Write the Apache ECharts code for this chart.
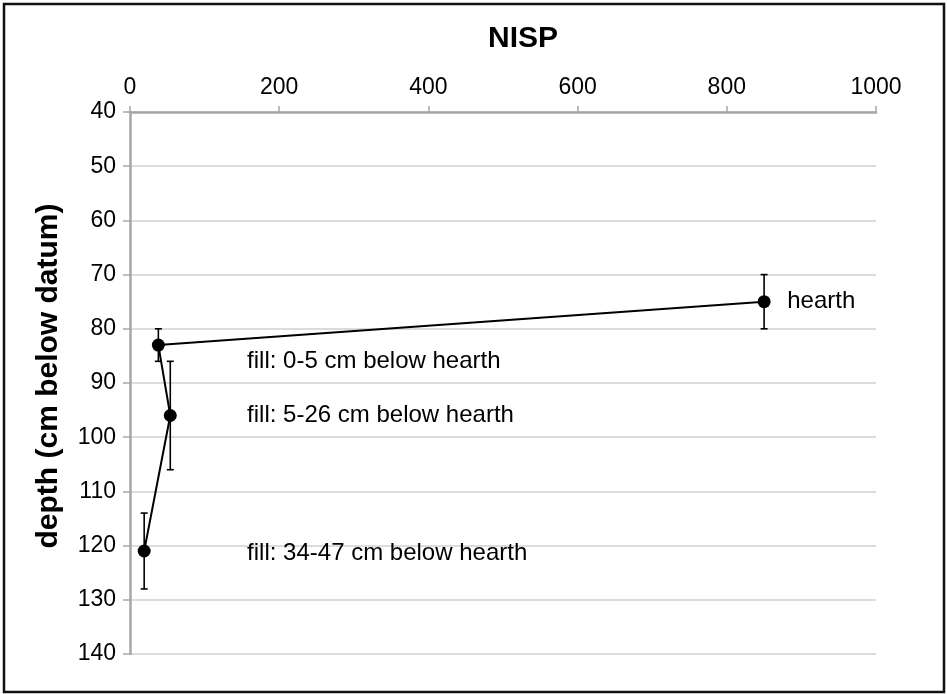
<!DOCTYPE html>
<html>
<head>
<meta charset="utf-8">
<script src="https://cdn.jsdelivr.net/npm/echarts@6/dist/echarts.min.js"></script>
<style>
html,body{margin:0;padding:0;background:#fff;}
#c{width:947px;height:694px;}
</style>
</head>
<body>
<div id="c"></div>
<script>
// Data
var nisp = [850, 38, 54, 19];
var depth = [75, 83, 96, 121];
var errLow = [70, 80, 86, 114];
var errHigh = [80, 86, 106, 128];
var xTicks = [0, 200, 400, 600, 800, 1000];
var yTicks = [40, 50, 60, 70, 80, 90, 100, 110, 120, 130, 140];
var annText = ['hearth', 'fill: 0-5 cm below hearth', 'fill: 5-26 cm below hearth', 'fill: 34-47 cm below hearth'];
var annX = [881, 157, 157, 157];
var annY = [75, 86, 96, 121.4];

var FONT = '"Liberation Sans", Arial, sans-serif';
var chart = echarts.init(document.getElementById('c'), null, {renderer: 'canvas'});

var lineData = nisp.map(function (v, i) { return [v, depth[i]]; });
var errData = nisp.map(function (v, i) { return [v, errLow[i], errHigh[i]]; });
var annData = annText.map(function (t, i) { return {value: [annX[i], annY[i]], name: t}; });

chart.setOption({
  animation: false,
  backgroundColor: '#fff',
  grid: {left: 130, right: 71, top: 112, bottom: 40, containLabel: false},
  xAxis: {
    type: 'value', position: 'top',
    min: xTicks[0], max: xTicks[xTicks.length - 1], interval: xTicks[1] - xTicks[0],
    axisLine: {show: true, onZero: false, lineStyle: {color: '#a6a6a6', width: 2.5}},
    axisTick: {show: true, inside: false, length: 6, lineStyle: {color: '#a6a6a6', width: 1.5}},
    axisLabel: {margin: 13, color: '#000', fontSize: 23, fontFamily: FONT, formatter: function (v) { return String(v); }},
    splitLine: {show: false}
  },
  yAxis: {
    type: 'value', inverse: true,
    min: yTicks[0], max: yTicks[yTicks.length - 1], interval: yTicks[1] - yTicks[0],
    axisLine: {show: true, onZero: false, lineStyle: {color: '#a6a6a6', width: 2.5}},
    axisTick: {show: true, inside: false, length: 7, lineStyle: {color: '#a6a6a6', width: 1.5}},
    axisLabel: {margin: 14, color: '#000', fontSize: 23, fontFamily: FONT, formatter: function (v) { return String(v); }},
    splitLine: {show: true, lineStyle: {color: '#d0d0d0', width: 1.5}}
  },
  graphic: [
    {type: 'rect', shape: {x: 4, y: 4, width: 940, height: 688}, style: {fill: 'none', stroke: '#111', lineWidth: 2.5}, z: 100},
    {type: 'text', x: 523, y: 39, style: {text: 'NISP', fill: '#000', font: 'bold 30px ' + FONT, textAlign: 'center', textVerticalAlign: 'middle'}},
    {type: 'text', x: 49, y: 376, rotation: Math.PI / 2, style: {text: 'depth (cm below datum)', fill: '#000', font: 'bold 30px ' + FONT, textAlign: 'center', textVerticalAlign: 'middle'}}
  ],
  series: [
    {
      type: 'custom',
      data: errData,
      z: 3,
      renderItem: function (params, api) {
        var x = api.value(0);
        var lo = api.coord([x, api.value(1)]);
        var hi = api.coord([x, api.value(2)]);
        var cw = 3.5;
        var st = {stroke: '#000', lineWidth: 1.6};
        return {
          type: 'group',
          children: [
            {type: 'line', shape: {x1: lo[0], y1: lo[1], x2: hi[0], y2: hi[1]}, style: st},
            {type: 'line', shape: {x1: lo[0] - cw, y1: lo[1], x2: lo[0] + cw, y2: lo[1]}, style: st},
            {type: 'line', shape: {x1: hi[0] - cw, y1: hi[1], x2: hi[0] + cw, y2: hi[1]}, style: st}
          ]
        };
      }
    },
    {
      type: 'line',
      data: lineData,
      z: 4,
      symbol: 'circle', symbolSize: 13,
      lineStyle: {color: '#000', width: 2},
      itemStyle: {color: '#000', opacity: 1}
    },
    {
      type: 'scatter',
      data: annData,
      symbolSize: 0,
      z: 5,
      itemStyle: {opacity: 1},
      label: {
        show: true, position: 'right', distance: 0,
        formatter: function (p) { return p.name; },
        color: '#000', fontSize: 24, fontFamily: FONT
      }
    }
  ]
});
</script>
</body>
</html>
